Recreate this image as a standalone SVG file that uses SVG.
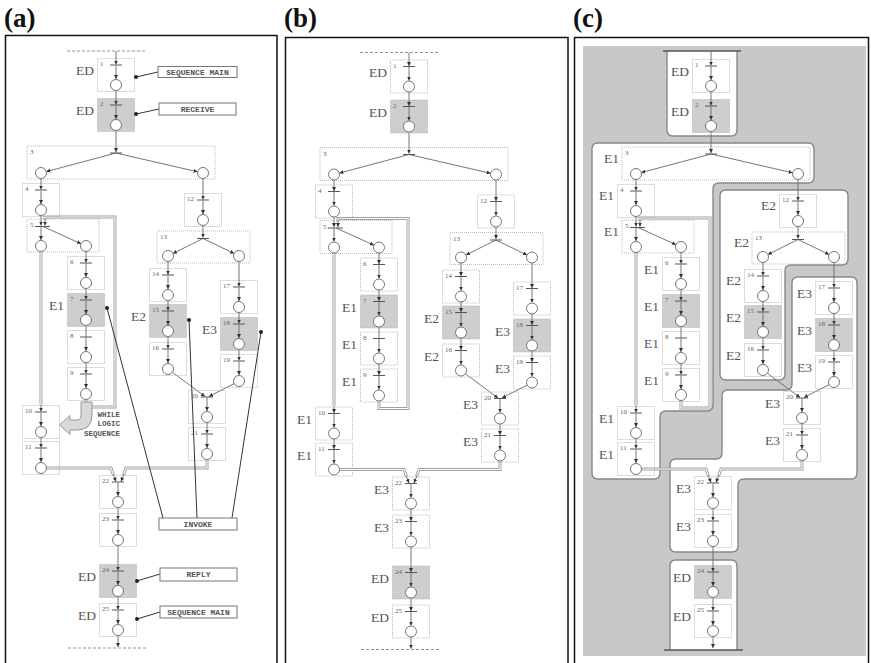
<svg xmlns="http://www.w3.org/2000/svg" xmlns:xlink="http://www.w3.org/1999/xlink" width="871" height="663" viewBox="0 0 871 663">
<style>
.fr{fill:none;stroke:#111;stroke-width:1.5}
.tt{font-family:"Liberation Serif",serif;font-weight:bold;font-size:27px;fill:#111}
.bx{fill:none;stroke:#aaa;stroke-width:0.8;stroke-dasharray:1 1}
.bxs{fill:#cecece;stroke:#aaa;stroke-width:0.8;stroke-dasharray:1 1}
.bar{stroke:#555;stroke-width:1}
.ln{fill:none;stroke:#666;stroke-width:0.9}
.cn path{fill:none;stroke:#666;stroke-width:0.9}
.cn .h1{stroke:#a0a0a0;stroke-width:3}
.cn .h2{stroke:#fff;stroke-width:1.1}
.cn .ds{stroke:#888;stroke-dasharray:3 2}
.pl{fill:#fff;stroke:#666;stroke-width:0.9}
.nm{font-family:"Liberation Serif",serif;font-size:7px;fill:#666}
.el{font-family:"Liberation Serif",serif;font-size:13.5px;fill:#555;text-anchor:end}
.ab{fill:#fff;stroke:#777;stroke-width:1}
.at{font-family:"Liberation Mono",monospace;font-weight:bold;font-size:8px;fill:#555;text-anchor:middle}
.wt{font-family:"Liberation Mono",monospace;font-weight:bold;font-size:7.5px;fill:#555;text-anchor:end}
.al{fill:none;stroke:#333;stroke-width:1}
.dot{fill:#222}
.bg{fill:#c8c8c8}
.rg{fill:#fff;stroke:#888;stroke-width:1.4}
.rl{fill:none;stroke:#555;stroke-width:1.5}
</style>
<defs>
<marker id="ar" viewBox="0 0 6 6" refX="6" refY="3" markerWidth="4" markerHeight="4" orient="auto" markerUnits="userSpaceOnUse"><path d="M0 0L6 3L0 6z" fill="#333"/></marker>
<g id="ub"><rect class="bx" x="0.5" y="0.5" width="37" height="33"/><path class="bar" d="M13 7H25"/><path class="ln" d="M19 7.5V21" marker-end="url(#ar)"/><circle class="pl" cx="19" cy="27" r="5.5"/></g>
<g id="ubs"><rect class="bxs" x="0.5" y="0.5" width="37" height="33"/><path class="bar" d="M13 7H25"/><path class="ln" d="M19 7.5V21" marker-end="url(#ar)"/><circle class="pl" cx="19" cy="27" r="5.5"/></g>
<g id="u"><use href="#ub"/><path class="ln" d="M19 0V6.5" marker-end="url(#ar)"/></g>
<g id="us"><use href="#ubs"/><path class="ln" d="M19 0V6.5" marker-end="url(#ar)"/></g>
</defs>
<rect width="871" height="663" fill="#fff"/>
<text class="tt" x="4" y="27">(a)</text>
<text class="tt" x="284" y="27">(b)</text>
<text class="tt" x="573" y="27">(c)</text>
<rect class="fr" x="5.5" y="35.5" width="271.5" height="630"/>
<rect class="fr" x="285.5" y="37.5" width="282.5" height="630"/>
<rect class="bg" x="583" y="46" width="283" height="610"/>
<rect class="fr" x="574.5" y="37.5" width="294" height="630"/>

<!-- ===== Panel (a) ===== -->
<g id="panel-a">
<g id="a-connectors" class="cn">
<path class="ds" d="M67 51H145"/>
<path d="M116 51V58"/>
<path d="M116 90.5V98"/>
<path d="M116 130.5V152" marker-end="url(#ar)"/>
<path d="M116 153L46.3 171.6" marker-end="url(#ar)"/>
<path d="M116 153L197.6 171.8" marker-end="url(#ar)"/>
<path d="M41 178.5V183"/>
<path d="M41 215.5V225.5" marker-end="url(#ar)"/>
<path d="M41 226.5V240" marker-end="url(#ar)"/>
<path d="M43 226.5L81 243.7" marker-end="url(#ar)"/>
<path d="M86 251.5V256"/>
<path d="M86 288.5V293"/>
<path d="M86 325.5V330"/>
<path d="M86 362.5V367"/>
<path d="M41 437.5V441"/>
<path d="M203 178.5V193"/>
<path d="M203 225.5V237.5" marker-end="url(#ar)"/>
<path d="M203 238.5L172.9 253.5" marker-end="url(#ar)"/>
<path d="M203 238.5L234.1 253.5" marker-end="url(#ar)"/>
<path d="M168 261.5V268"/>
<path d="M168 300.5V304"/>
<path d="M168 336.5V342"/>
<path d="M239 261.5V280"/>
<path d="M239 312.5V317"/>
<path d="M239 349.5V354"/>
<path d="M172.4 372.3L205 396.5" marker-end="url(#ar)"/>
<path d="M234.1 383.6L209 396.5" marker-end="url(#ar)"/>
<path d="M207 422.5V427"/>
<path d="M118 507.5V513"/>
<path d="M118 545.5V564"/>
<path d="M118 596.5V603"/>
<path d="M118 635.5V647" marker-end="url(#ar)"/>
<path class="ds" d="M68 648H147"/>
<path class="h1" d="M41 251.5V404.5"/><path class="h2" d="M41 251.5V404.5"/>
<path class="h1" d="M86 399.5V407H115V217H45V220"/><path class="h2" d="M86 399.5V407H115V217H45V220"/>
<path d="M45 219V225.5" marker-end="url(#ar)"/>
<path class="h1" d="M46.5 468H111L113.5 475"/><path class="h2" d="M46.5 468H111L113.5 475"/>
<path d="M113 474L116 481.5" marker-end="url(#ar)"/>
<path class="h1" d="M207 459.5V468H126L123.5 475"/><path class="h2" d="M207 459.5V468H126L123.5 475"/>
<path d="M124 474L121 481.5" marker-end="url(#ar)"/>
</g>
<g id="a-n1"><use href="#u" x="97" y="58"/><text class="nm" x="100" y="66">1</text></g>
<g id="a-n2"><use href="#us" x="97" y="98"/><text class="nm" x="100" y="106">2</text></g>
<g id="a-n3"><rect class="bx" x="27" y="146" width="188" height="33"/><path class="bar" d="M110 153H122"/><circle class="pl" cx="41" cy="173" r="5.5"/><circle class="pl" cx="203" cy="173" r="5.5"/><text class="nm" x="30" y="154">3</text></g>
<g id="a-n4"><use href="#u" x="22" y="183"/><text class="nm" x="25" y="191">4</text></g>
<g id="a-n5"><rect class="bx" x="27" y="219" width="72" height="33"/><path class="bar" d="M35 226.5H50"/><circle class="pl" cx="41" cy="246" r="5.5"/><circle class="pl" cx="86" cy="246" r="5.5"/><text class="nm" x="30" y="227">5</text></g>
<g id="a-n6"><use href="#u" x="67" y="256"/><text class="nm" x="70" y="264">6</text></g>
<g id="a-n7"><use href="#us" x="67" y="293"/><text class="nm" x="70" y="301">7</text></g>
<g id="a-n8"><use href="#ub" x="67" y="330"/><path class="ln" d="M86 330V337"/><text class="nm" x="70" y="338">8</text></g>
<g id="a-n9"><use href="#u" x="67" y="367"/><text class="nm" x="70" y="375">9</text></g>
<g id="a-n10"><use href="#u" x="22" y="405"/><text class="nm" x="25" y="413">10</text></g>
<g id="a-n11"><use href="#u" x="22" y="441"/><text class="nm" x="25" y="449">11</text></g>
<g id="a-n12"><use href="#u" x="184" y="193"/><text class="nm" x="187" y="201">12</text></g>
<g id="a-n13"><rect class="bx" x="157" y="231" width="93" height="32"/><path class="bar" d="M197 238.5H209"/><circle class="pl" cx="168" cy="256" r="5.5"/><circle class="pl" cx="239" cy="256" r="5.5"/><text class="nm" x="160" y="239">13</text></g>
<g id="a-n14"><use href="#u" x="149" y="268"/><text class="nm" x="152" y="276">14</text></g>
<g id="a-n15"><use href="#us" x="149" y="304"/><text class="nm" x="152" y="312">15</text></g>
<g id="a-n16"><use href="#u" x="149" y="342"/><text class="nm" x="152" y="350">16</text></g>
<g id="a-n17"><use href="#u" x="220" y="280"/><text class="nm" x="223" y="288">17</text></g>
<g id="a-n18"><use href="#us" x="220" y="317"/><text class="nm" x="223" y="325">18</text></g>
<g id="a-n19"><use href="#u" x="220" y="354"/><text class="nm" x="223" y="362">19</text></g>
<g id="a-n20"><use href="#ub" x="188" y="390"/><text class="nm" x="191" y="398">20</text></g>
<g id="a-n21"><use href="#u" x="188" y="427"/><text class="nm" x="191" y="435">21</text></g>
<g id="a-n22"><use href="#ub" x="99" y="475"/><text class="nm" x="102" y="483">22</text></g>
<g id="a-n23"><use href="#u" x="99" y="513"/><text class="nm" x="102" y="521">23</text></g>
<g id="a-n24"><use href="#us" x="99" y="564"/><text class="nm" x="102" y="572">24</text></g>
<g id="a-n25"><use href="#u" x="99" y="603"/><text class="nm" x="102" y="611">25</text></g>
<g id="a-labels">
<text class="el" x="94" y="75">ED</text>
<text class="el" x="94" y="115">ED</text>
<text class="el" x="64" y="310">E1</text>
<text class="el" x="146" y="321">E2</text>
<text class="el" x="217" y="334">E3</text>
<text class="el" x="96" y="581">ED</text>
<text class="el" x="96" y="620">ED</text>
</g>
<g id="a-annotation-links">
<path class="al" d="M136 77L158 72M136 114L159 109M107 308L163 518M189 320L197 518M261 332L232 518M137 581L160 574M137 619L160 612"/>
<circle class="dot" cx="136" cy="77" r="2"/><circle class="dot" cx="136" cy="114" r="2"/><circle class="dot" cx="107" cy="308" r="2"/><circle class="dot" cx="189" cy="320" r="2"/><circle class="dot" cx="261" cy="332" r="2"/><circle class="dot" cx="137" cy="581" r="2"/><circle class="dot" cx="137" cy="619" r="2"/>
</g>
<g id="a-note-seqmain1"><rect class="ab" x="158" y="66.5" width="79" height="11"/><text class="at" x="197.5" y="74.5">SEQUENCE MAIN</text></g>
<g id="a-note-receive"><rect class="ab" x="159" y="103" width="77" height="12"/><text class="at" x="197.5" y="111.5">RECEIVE</text></g>
<g id="a-note-invoke"><rect class="ab" x="159" y="518" width="78" height="12"/><text class="at" x="198" y="526.5">INVOKE</text></g>
<g id="a-note-reply"><rect class="ab" x="160" y="568" width="77" height="13"/><text class="at" x="198.5" y="577">REPLY</text></g>
<g id="a-note-seqmain2"><rect class="ab" x="160" y="606" width="77" height="12"/><text class="at" x="198.5" y="614.5">SEQUENCE MAIN</text></g>
<g id="a-note-while">
<path d="M81 402H92V415Q92 430 77 430H70V434.5L59.5 425L70 415.5V420H77Q81 420 81 415Z" fill="#d8d8d8" stroke="#999" stroke-width="1"/>
<text class="wt" x="120" y="417">WHILE</text>
<text class="wt" x="120" y="426">LOGIC</text>
<text class="wt" x="120" y="435.5">SEQUENCE</text>
</g>
</g>

<!-- ===== Panel (b) ===== -->
<g id="panel-b" transform="translate(293,1.5)">
<g id="b-connectors" class="cn">
<path class="ds" d="M67 51H145"/>
<path d="M116 51V58"/>
<path d="M116 90.5V98"/>
<path d="M116 130.5V152" marker-end="url(#ar)"/>
<path d="M116 153L46.3 171.6" marker-end="url(#ar)"/>
<path d="M116 153L197.6 171.8" marker-end="url(#ar)"/>
<path d="M41 178.5V183"/>
<path d="M41 215.5V225.5" marker-end="url(#ar)"/>
<path d="M41 226.5V240" marker-end="url(#ar)"/>
<path d="M43 226.5L81 243.7" marker-end="url(#ar)"/>
<path d="M86 251.5V256"/>
<path d="M86 288.5V293"/>
<path d="M86 325.5V330"/>
<path d="M86 362.5V367"/>
<path d="M41 437.5V441"/>
<path d="M203 178.5V193"/>
<path d="M203 225.5V237.5" marker-end="url(#ar)"/>
<path d="M203 238.5L172.9 253.5" marker-end="url(#ar)"/>
<path d="M203 238.5L234.1 253.5" marker-end="url(#ar)"/>
<path d="M168 261.5V268"/>
<path d="M168 300.5V304"/>
<path d="M168 336.5V342"/>
<path d="M239 261.5V280"/>
<path d="M239 312.5V317"/>
<path d="M239 349.5V354"/>
<path d="M172.4 372.3L205 396.5" marker-end="url(#ar)"/>
<path d="M234.1 383.6L209 396.5" marker-end="url(#ar)"/>
<path d="M207 422.5V427"/>
<path d="M118 507.5V513"/>
<path d="M118 545.5V564"/>
<path d="M118 596.5V603"/>
<path d="M118 635.5V647" marker-end="url(#ar)"/>
<path class="ds" d="M68 648H147"/>
<path class="h1" d="M41 251.5V404.5"/><path class="h2" d="M41 251.5V404.5"/>
<path class="h1" d="M86 399.5V407H115V217H45V220"/><path class="h2" d="M86 399.5V407H115V217H45V220"/>
<path d="M45 219V225.5" marker-end="url(#ar)"/>
<path class="h1" d="M46.5 468H111L113.5 475"/><path class="h2" d="M46.5 468H111L113.5 475"/>
<path d="M113 474L116 481.5" marker-end="url(#ar)"/>
<path class="h1" d="M207 459.5V468H126L123.5 475"/><path class="h2" d="M207 459.5V468H126L123.5 475"/>
<path d="M124 474L121 481.5" marker-end="url(#ar)"/>
</g>
<g id="b-n1"><use href="#u" x="97" y="58"/><text class="nm" x="100" y="66">1</text></g>
<g id="b-n2"><use href="#us" x="97" y="98"/><text class="nm" x="100" y="106">2</text></g>
<g id="b-n3"><rect class="bx" x="27" y="146" width="188" height="33"/><path class="bar" d="M110 153H122"/><circle class="pl" cx="41" cy="173" r="5.5"/><circle class="pl" cx="203" cy="173" r="5.5"/><text class="nm" x="30" y="154">3</text></g>
<g id="b-n4"><use href="#u" x="22" y="183"/><text class="nm" x="25" y="191">4</text></g>
<g id="b-n5"><rect class="bx" x="27" y="219" width="72" height="33"/><path class="bar" d="M35 226.5H50"/><circle class="pl" cx="41" cy="246" r="5.5"/><circle class="pl" cx="86" cy="246" r="5.5"/><text class="nm" x="30" y="227">5</text></g>
<g id="b-n6"><use href="#u" x="67" y="256"/><text class="nm" x="70" y="264">6</text></g>
<g id="b-n7"><use href="#us" x="67" y="293"/><text class="nm" x="70" y="301">7</text></g>
<g id="b-n8"><use href="#ub" x="67" y="330"/><path class="ln" d="M86 330V337"/><text class="nm" x="70" y="338">8</text></g>
<g id="b-n9"><use href="#u" x="67" y="367"/><text class="nm" x="70" y="375">9</text></g>
<g id="b-n10"><use href="#u" x="22" y="405"/><text class="nm" x="25" y="413">10</text></g>
<g id="b-n11"><use href="#u" x="22" y="441"/><text class="nm" x="25" y="449">11</text></g>
<g id="b-n12"><use href="#u" x="184" y="193"/><text class="nm" x="187" y="201">12</text></g>
<g id="b-n13"><rect class="bx" x="157" y="231" width="93" height="32"/><path class="bar" d="M197 238.5H209"/><circle class="pl" cx="168" cy="256" r="5.5"/><circle class="pl" cx="239" cy="256" r="5.5"/><text class="nm" x="160" y="239">13</text></g>
<g id="b-n14"><use href="#u" x="149" y="268"/><text class="nm" x="152" y="276">14</text></g>
<g id="b-n15"><use href="#us" x="149" y="304"/><text class="nm" x="152" y="312">15</text></g>
<g id="b-n16"><use href="#u" x="149" y="342"/><text class="nm" x="152" y="350">16</text></g>
<g id="b-n17"><use href="#u" x="220" y="280"/><text class="nm" x="223" y="288">17</text></g>
<g id="b-n18"><use href="#us" x="220" y="317"/><text class="nm" x="223" y="325">18</text></g>
<g id="b-n19"><use href="#u" x="220" y="354"/><text class="nm" x="223" y="362">19</text></g>
<g id="b-n20"><use href="#ub" x="188" y="390"/><text class="nm" x="191" y="398">20</text></g>
<g id="b-n21"><use href="#u" x="188" y="427"/><text class="nm" x="191" y="435">21</text></g>
<g id="b-n22"><use href="#ub" x="99" y="475"/><text class="nm" x="102" y="483">22</text></g>
<g id="b-n23"><use href="#u" x="99" y="513"/><text class="nm" x="102" y="521">23</text></g>
<g id="b-n24"><use href="#us" x="99" y="564"/><text class="nm" x="102" y="572">24</text></g>
<g id="b-n25"><use href="#u" x="99" y="603"/><text class="nm" x="102" y="611">25</text></g>
<g id="b-labels">
<text class="el" x="94" y="75">ED</text>
<text class="el" x="94" y="115">ED</text>
<text class="el" x="64" y="310">E1</text>
<text class="el" x="64" y="347">E1</text>
<text class="el" x="64" y="384">E1</text>
<text class="el" x="19" y="422">E1</text>
<text class="el" x="19" y="458">E1</text>
<text class="el" x="146" y="321">E2</text>
<text class="el" x="146" y="359">E2</text>
<text class="el" x="217" y="334">E3</text>
<text class="el" x="217" y="371">E3</text>
<text class="el" x="185" y="407">E3</text>
<text class="el" x="185" y="444">E3</text>
<text class="el" x="96" y="492">E3</text>
<text class="el" x="96" y="530">E3</text>
<text class="el" x="96" y="581">ED</text>
<text class="el" x="96" y="620">ED</text>
</g>
</g>

<!-- ===== Panel (c) ===== -->
<g id="panel-c">
<g id="c-regions">
<path id="c-region-ed-top" class="rg" d="M667 51V130Q667 136 673 136H731Q737 136 737 130V51"/>
<path id="c-region-e1" class="rg" d="M592 149Q592 143 598 143H808Q814 143 814 149V177Q814 183 808 183H719Q713 183 713 189V405Q713 411 707 411H666Q660 411 660 417V473Q660 479 654 479H598Q592 479 592 473Z"/>
<path id="c-region-e2" class="rg" d="M720 196Q720 190 726 190H842Q848 190 848 196V259Q848 265 842 265H791Q785 265 785 271V374Q785 380 779 380H726Q720 380 720 374Z"/>
<path id="c-region-e3" class="rg" d="M792 283Q792 277 798 277H851Q857 277 857 283V473Q857 479 851 479H744Q738 479 738 485V546Q738 552 732 552H676Q670 552 670 546V465Q670 459 676 459H716Q722 459 722 453V396Q722 390 728 390H786Q792 390 792 384Z"/>
<path id="c-region-ed-bottom" class="rg" d="M670 650V566Q670 560 676 560H731Q737 560 737 566V650"/>
<path class="rl" d="M663 51H741M664 650H743"/>
</g>
<g transform="translate(595,1)">
<g id="c-connectors" class="cn">
<path d="M116 50V58"/>
<path d="M116 90.5V98"/>
<path d="M116 130.5V152" marker-end="url(#ar)"/>
<path d="M116 153L46.3 171.6" marker-end="url(#ar)"/>
<path d="M116 153L197.6 171.8" marker-end="url(#ar)"/>
<path d="M41 178.5V183"/>
<path d="M41 215.5V225.5" marker-end="url(#ar)"/>
<path d="M41 226.5V240" marker-end="url(#ar)"/>
<path d="M43 226.5L81 243.7" marker-end="url(#ar)"/>
<path d="M86 251.5V256"/>
<path d="M86 288.5V293"/>
<path d="M86 325.5V330"/>
<path d="M86 362.5V367"/>
<path d="M41 437.5V441"/>
<path d="M203 178.5V193"/>
<path d="M203 225.5V237.5" marker-end="url(#ar)"/>
<path d="M203 238.5L172.9 253.5" marker-end="url(#ar)"/>
<path d="M203 238.5L234.1 253.5" marker-end="url(#ar)"/>
<path d="M168 261.5V268"/>
<path d="M168 300.5V304"/>
<path d="M168 336.5V342"/>
<path d="M239 261.5V280"/>
<path d="M239 312.5V317"/>
<path d="M239 349.5V354"/>
<path d="M172.4 372.3L205 396.5" marker-end="url(#ar)"/>
<path d="M234.1 383.6L209 396.5" marker-end="url(#ar)"/>
<path d="M207 422.5V427"/>
<path d="M118 507.5V513"/>
<path d="M118 545.5V564"/>
<path d="M118 596.5V603"/>
<path d="M118 635.5V647" marker-end="url(#ar)"/>
<path class="h1" d="M41 251.5V404.5"/><path class="h2" d="M41 251.5V404.5"/>
<path class="h1" d="M86 399.5V407H115V217H45V220"/><path class="h2" d="M86 399.5V407H115V217H45V220"/>
<path d="M45 219V225.5" marker-end="url(#ar)"/>
<path class="h1" d="M46.5 468H111L113.5 475"/><path class="h2" d="M46.5 468H111L113.5 475"/>
<path d="M113 474L116 481.5" marker-end="url(#ar)"/>
<path class="h1" d="M207 459.5V468H126L123.5 475"/><path class="h2" d="M207 459.5V468H126L123.5 475"/>
<path d="M124 474L121 481.5" marker-end="url(#ar)"/>
</g>
<g id="c-n1"><use href="#u" x="97" y="58"/><text class="nm" x="100" y="66">1</text></g>
<g id="c-n2"><use href="#us" x="97" y="98"/><text class="nm" x="100" y="106">2</text></g>
<g id="c-n3"><rect class="bx" x="27" y="146" width="188" height="33"/><path class="bar" d="M110 153H122"/><circle class="pl" cx="41" cy="173" r="5.5"/><circle class="pl" cx="203" cy="173" r="5.5"/><text class="nm" x="30" y="154">3</text></g>
<g id="c-n4"><use href="#u" x="22" y="183"/><text class="nm" x="25" y="191">4</text></g>
<g id="c-n5"><rect class="bx" x="27" y="219" width="72" height="33"/><path class="bar" d="M35 226.5H50"/><circle class="pl" cx="41" cy="246" r="5.5"/><circle class="pl" cx="86" cy="246" r="5.5"/><text class="nm" x="30" y="227">5</text></g>
<g id="c-n6"><use href="#u" x="67" y="256"/><text class="nm" x="70" y="264">6</text></g>
<g id="c-n7"><use href="#us" x="67" y="293"/><text class="nm" x="70" y="301">7</text></g>
<g id="c-n8"><use href="#ub" x="67" y="330"/><path class="ln" d="M86 330V337"/><text class="nm" x="70" y="338">8</text></g>
<g id="c-n9"><use href="#u" x="67" y="367"/><text class="nm" x="70" y="375">9</text></g>
<g id="c-n10"><use href="#u" x="22" y="405"/><text class="nm" x="25" y="413">10</text></g>
<g id="c-n11"><use href="#u" x="22" y="441"/><text class="nm" x="25" y="449">11</text></g>
<g id="c-n12"><use href="#u" x="184" y="193"/><text class="nm" x="187" y="201">12</text></g>
<g id="c-n13"><rect class="bx" x="157" y="231" width="93" height="32"/><path class="bar" d="M197 238.5H209"/><circle class="pl" cx="168" cy="256" r="5.5"/><circle class="pl" cx="239" cy="256" r="5.5"/><text class="nm" x="160" y="239">13</text></g>
<g id="c-n14"><use href="#u" x="149" y="268"/><text class="nm" x="152" y="276">14</text></g>
<g id="c-n15"><use href="#us" x="149" y="304"/><text class="nm" x="152" y="312">15</text></g>
<g id="c-n16"><use href="#u" x="149" y="342"/><text class="nm" x="152" y="350">16</text></g>
<g id="c-n17"><use href="#u" x="220" y="280"/><text class="nm" x="223" y="288">17</text></g>
<g id="c-n18"><use href="#us" x="220" y="317"/><text class="nm" x="223" y="325">18</text></g>
<g id="c-n19"><use href="#u" x="220" y="354"/><text class="nm" x="223" y="362">19</text></g>
<g id="c-n20"><use href="#ub" x="188" y="390"/><text class="nm" x="191" y="398">20</text></g>
<g id="c-n21"><use href="#u" x="188" y="427"/><text class="nm" x="191" y="435">21</text></g>
<g id="c-n22"><use href="#ub" x="99" y="475"/><text class="nm" x="102" y="483">22</text></g>
<g id="c-n23"><use href="#u" x="99" y="513"/><text class="nm" x="102" y="521">23</text></g>
<g id="c-n24"><use href="#us" x="99" y="564"/><text class="nm" x="102" y="572">24</text></g>
<g id="c-n25"><use href="#u" x="99" y="603"/><text class="nm" x="102" y="611">25</text></g>
<g id="c-labels">
<text class="el" x="94" y="75">ED</text>
<text class="el" x="94" y="115">ED</text>
<text class="el" x="24" y="162">E1</text>
<text class="el" x="19" y="199">E1</text>
<text class="el" x="24" y="235">E1</text>
<text class="el" x="64" y="273">E1</text>
<text class="el" x="64" y="310">E1</text>
<text class="el" x="64" y="347">E1</text>
<text class="el" x="64" y="384">E1</text>
<text class="el" x="19" y="422">E1</text>
<text class="el" x="19" y="458">E1</text>
<text class="el" x="181" y="209">E2</text>
<text class="el" x="154" y="246">E2</text>
<text class="el" x="146" y="284">E2</text>
<text class="el" x="146" y="321">E2</text>
<text class="el" x="146" y="359">E2</text>
<text class="el" x="217" y="297">E3</text>
<text class="el" x="217" y="334">E3</text>
<text class="el" x="217" y="371">E3</text>
<text class="el" x="185" y="407">E3</text>
<text class="el" x="185" y="444">E3</text>
<text class="el" x="96" y="492">E3</text>
<text class="el" x="96" y="530">E3</text>
<text class="el" x="96" y="581">ED</text>
<text class="el" x="96" y="620">ED</text>
</g>
</g>
</g>
</svg>
